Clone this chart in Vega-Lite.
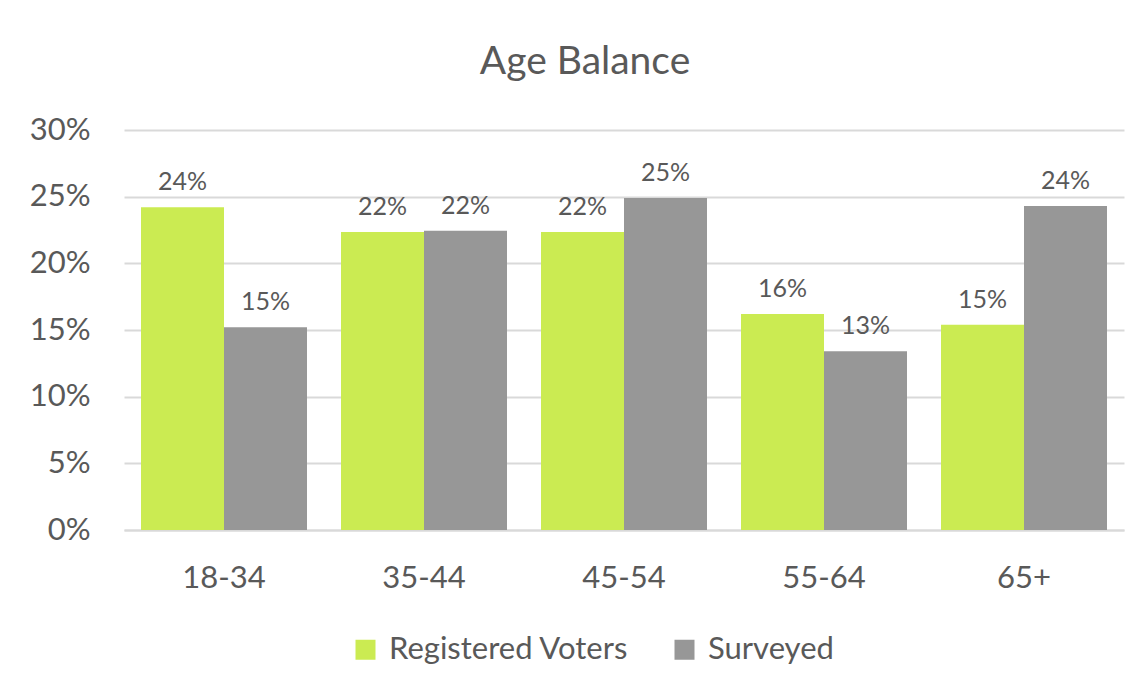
{
  "$schema": "https://vega.github.io/schema/vega-lite/v6.json",
  "autosize": {"type": "none"},
  "width": 1000,
  "height": 400,
  "padding": {"left": 124, "top": 130, "right": 20, "bottom": 163},
  "background": "white",
  "title": {
    "text": "Age Balance",
    "fontSize": 39,
    "font": "Lato",
    "fontWeight": "normal",
    "color": "#595959",
    "anchor": "middle",
    "dx": -39,
    "offset": 32
  },
  "data": {
    "values": [
      {"age": "18-34", "series": "Registered Voters", "value": 0.242},
      {"age": "18-34", "series": "Surveyed", "value": 0.152},
      {"age": "35-44", "series": "Registered Voters", "value": 0.2235},
      {"age": "35-44", "series": "Surveyed", "value": 0.2245},
      {"age": "45-54", "series": "Registered Voters", "value": 0.2235},
      {"age": "45-54", "series": "Surveyed", "value": 0.249},
      {"age": "55-64", "series": "Registered Voters", "value": 0.162},
      {"age": "55-64", "series": "Surveyed", "value": 0.134},
      {"age": "65+", "series": "Registered Voters", "value": 0.154},
      {"age": "65+", "series": "Surveyed", "value": 0.243}
    ]
  },
  "encoding": {
    "x": {
      "field": "age",
      "type": "nominal",
      "sort": null,
      "scale": {"paddingInner": 0.17, "paddingOuter": 0.085},
      "axis": {
        "title": null,
        "labelAngle": 0,
        "labelFontSize": 31,
        "labelFont": "Lato",
        "labelColor": "#595959",
        "labelPadding": 33,
        "ticks": false,
        "domainColor": "#d9d9d9",
        "domainWidth": 2
      }
    },
    "xOffset": {"field": "series", "type": "nominal", "sort": ["Registered Voters", "Surveyed"], "scale": {"paddingInner": 0, "paddingOuter": 0}},
    "y": {
      "field": "value",
      "type": "quantitative",
      "scale": {"domain": [0, 0.3], "nice": false},
      "axis": {
        "title": null,
        "format": ".0%",
        "values": [0, 0.05, 0.1, 0.15, 0.2, 0.25, 0.3],
        "labelFontSize": 31,
        "labelFont": "Lato",
        "labelColor": "#595959",
        "labelPadding": 34,
        "ticks": false,
        "domain": false,
        "grid": true,
        "gridColor": "#d9d9d9",
        "gridWidth": 2
      }
    }
  },
  "layer": [
    {
      "mark": {"type": "bar"},
      "encoding": {
        "color": {
          "field": "series",
          "type": "nominal",
          "sort": ["Registered Voters", "Surveyed"],
          "scale": {"domain": ["Registered Voters", "Surveyed"], "range": ["#cbeb52", "#979797"]},
          "legend": {
            "title": null,
            "orient": "none",
            "direction": "horizontal",
            "legendX": 226,
            "legendY": 504,
            "symbolType": "square",
            "symbolSize": 400,
            "symbolStrokeWidth": 0,
            "labelFontSize": 31,
            "labelFont": "Lato",
            "labelColor": "#595959",
            "labelLimit": 0,
            "labelOffset": 8,
            "columnPadding": 40
          }
        }
      }
    },
    {
      "mark": {"type": "text", "baseline": "bottom", "dy": -12, "fontSize": 25, "font": "Lato", "color": "#595959"},
      "encoding": {
        "text": {"field": "value", "type": "quantitative", "format": ".0%"}
      }
    }
  ],
  "config": {"view": {"stroke": null}}
}
